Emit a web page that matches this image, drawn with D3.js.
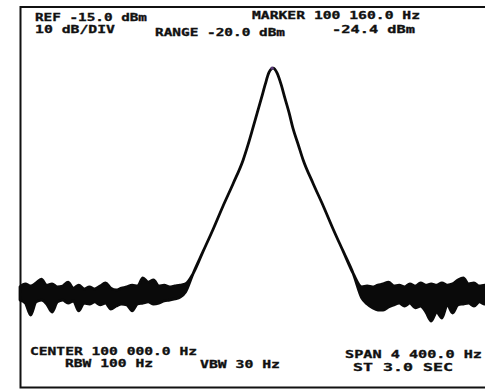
<!DOCTYPE html>
<html>
<head>
<meta charset="utf-8">
<script src="https://cdn.jsdelivr.net/npm/d3@7"></script>
<style>
  html, body { margin: 0; padding: 0; background: #fff; }
  svg { display: block; }
</style>
</head>
<body>
<svg id="chart"></svg>
<script>
const width = 485
const height = 390

const centerHz = 100000
const spanHz = 4400
const refDbm = -15
const dbPerDiv = 10
const markerHz = 100160
const markerDbm = -24.4

// sweep points, offset from center (Hz)
const sweepOffsetHz = [
  -2200, -2150, -2100, -2050, -2000, -1950, -1900, -1850, -1800, -1750,
  -1700, -1650, -1600, -1550, -1500, -1450, -1400, -1350, -1300, -1250,
  -1200, -1150, -1100, -1050, -1000, -950, -900, -850, -800, -750,
  -700, -650,
  -580, -485, -390, -300, -205, -110, -65, -20, 20, 60, 95, 130,
  170,
  205, 245, 280, 320, 355, 405, 450, 545, 640, 730, 825, 920,
  1000, 1050, 1100, 1150, 1200, 1250, 1300, 1350, 1400, 1450,
  1500, 1550, 1600, 1650, 1700, 1750, 1800, 1850, 1900, 1950,
  2000, 2050, 2100, 2150, 2200
]

// upper edge of trace (dBm)
const traceTop = [
  -97.3, -96.3, -97.0, -96.0, -94.7, -96.7, -96.3, -97.3, -97.0, -95.7,
  -97.7, -96.7, -98.0, -97.3, -98.0, -97.0, -96.0, -97.7, -98.3, -97.7,
  -97.3, -96.7, -97.0, -94.3, -95.7, -95.0, -97.0, -96.7, -97.3, -97.0,
  -96.7, -96.3,
  -92.9, -85.4, -77.9, -70.4, -62.9, -54.9, -49.9, -44.4, -39.4, -34.4, -29.9, -25.9,
  -24.4,
  -25.9, -29.9, -34.4, -39.4, -44.4, -49.9, -54.9, -62.9, -70.4, -77.9, -85.4, -92.9,
  -97.3, -97.0, -97.3, -96.7, -96.3, -95.7, -97.0, -96.7, -97.3, -96.3,
  -97.0, -96.0, -96.7, -96.3, -96.7, -96.0, -96.7, -96.3, -95.0, -94.3,
  -96.3, -96.0, -97.0, -96.7, -97.3
]

// lower edge of trace (dBm)
const traceBottom = [
  -101.7, -102.7, -106.7, -102.3, -101.7, -103.0, -105.7, -102.3, -101.7, -102.7,
  -102.0, -105.3, -102.7, -103.0, -102.3, -103.3, -102.7, -104.7, -103.7, -103.0,
  -103.3, -105.3, -103.0, -102.7, -102.3, -103.0, -102.7, -102.0, -101.7, -101.3,
  -100.7, -99.0,
  -92.9, -85.4, -77.9, -70.4, -62.9, -54.9, -49.9, -44.4, -39.4, -34.4, -29.9, -25.9,
  -24.4,
  -25.9, -29.9, -34.4, -39.4, -44.4, -49.9, -54.9, -62.9, -70.4, -77.9, -85.4, -92.9,
  -101.0, -103.0, -104.3, -105.0, -105.0, -104.0, -103.3, -102.7, -103.7, -102.7,
  -104.3, -103.7, -105.7, -108.7, -105.7, -107.7, -103.3, -106.0, -103.3, -103.0,
  -102.7, -103.7, -102.3, -103.0, -102.0
]

// annotations: [text, x, baseline, width]
const labelsTop = [
  ['REF -15.0 dBm', 35, 21, 112],
  ['10 dB/DIV', 35, 33, 80],
  ['RANGE -20.0 dBm', 155, 36, 130],
  ['MARKER 100 160.0 Hz', 252, 19, 168],
  ['-24.4 dBm', 332, 33, 83]
]
const labelsBottom = [
  ['CENTER 100 000.0 Hz', 30, 355, 167],
  ['RBW 100 Hz', 65, 367, 88],
  ['VBW 30 Hz', 200, 368, 80],
  ['SPAN 4 400.0 Hz', 345, 358, 137],
  ['ST 3.0 SEC', 353, 371, 100]
]

const svg = d3.select('#chart')
  .attr('width', width)
  .attr('height', height)

const x = d3.scaleLinear()
  .domain([centerHz - spanHz / 2, centerHz + spanHz / 2])
  .range([20, 490])

const y = d3.scaleLinear()
  .domain([refDbm, refDbm - dbPerDiv * 10])
  .range([40, 340])

const points = sweepOffsetHz.map((d, i) => ({
  hz: centerHz + d,
  top: traceTop[i],
  bottom: traceBottom[i]
}))

// screen frame
svg.append('path')
  .attr('d', 'M485,7 H20.5 V387.5 H485')
  .attr('fill', 'none')
  .attr('stroke', '#111')
  .attr('stroke-width', 2)

const area = d3.area()
  .x(d => x(d.hz))
  .y0(d => y(d.bottom))
  .y1(d => y(d.top))
  .curve(d3.curveMonotoneX)

svg.append('path')
  .datum(points)
  .attr('d', area)
  .attr('fill', '#0a0a0a')
  .attr('stroke', '#0a0a0a')
  .attr('stroke-width', 2.8)
  .attr('stroke-linejoin', 'round')

svg.append('circle')
  .attr('cx', x(markerHz))
  .attr('cy', y(markerDbm))
  .attr('r', 1.6)
  .attr('fill', '#5a3a78')

svg.append('g')
  .selectAll('text')
  .data(labelsTop.concat(labelsBottom))
  .enter().append('text')
  .attr('x', d => d[1])
  .attr('y', d => d[2])
  .attr('textLength', d => d[3])
  .attr('lengthAdjust', 'spacingAndGlyphs')
  .attr('font-family', 'DejaVu Sans Mono, monospace')
  .attr('font-weight', 'bold')
  .attr('font-size', 10)
  .attr('fill', '#111')
  .attr('stroke', '#111')
  .attr('stroke-width', 0.3)
  .text(d => d[0])
</script>
</body>
</html>
